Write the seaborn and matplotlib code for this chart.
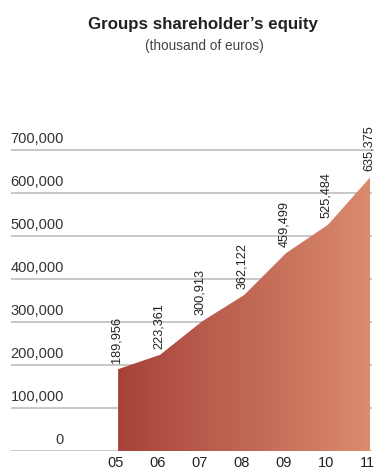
import numpy as np
import pandas as pd
import matplotlib
matplotlib.use("Agg")
import matplotlib.pyplot as plt
import seaborn as sns
from matplotlib.colors import LinearSegmentedColormap
from matplotlib import font_manager

sns.set_theme(style="white")

# Data
years = [5, 6, 7, 8, 9, 10, 11]
year_labels = ["05", "06", "07", "08", "09", "10", "11"]
equity = [189956, 223361, 300913, 362122, 459499, 525484, 635375]
y_ticks = [0, 100000, 200000, 300000, 400000, 500000, 600000, 700000]

installed = {f.name for f in font_manager.fontManager.ttflist}
base_font = "Liberation Sans" if "Liberation Sans" in installed else "DejaVu Sans"
narrow_font = next((f for f in ["Liberation Sans Narrow", "DejaVu Sans Condensed"]
                    if f in installed), base_font)
plt.rcParams["font.family"] = [base_font, "DejaVu Sans"]

df = pd.DataFrame({"year": years, "equity": equity})

W, H = 374, 470
fig = plt.figure(figsize=(W / 100, H / 100), dpi=100)

# axes placement in pixels
ax_left, ax_right = 11, 372.2
ax_bottom_px, px_per_100k = 451, 43.07
ymax = 800000
ax_top_px = ax_bottom_px - px_per_100k * ymax / 100000
ax = fig.add_axes([ax_left / W, (H - ax_bottom_px) / H,
                   (ax_right - ax_left) / W, (ax_bottom_px - ax_top_px) / H])
ax.set_xlim(2.45, 11.05)
ax.set_ylim(0, ymax)
ax.axis("off")

px = 100000 / px_per_100k  # data units per pixel (vertical)
label_x = (64 - ax_left) / (ax_right - ax_left)

grid_color = "#c4c4c4"
for v in y_ticks:
    ax.axhline(v, color=grid_color, lw=1.3, zorder=1)
    ax.text(label_x, v + 4 * px, f"{v:,}", transform=ax.get_yaxis_transform(),
            ha="right", va="bottom", fontsize=10.5, color="#333333")

# area outline through seaborn
sns.lineplot(data=df, x="year", y="equity", ax=ax, color="#c0604c", lw=0, zorder=3)
poly = ax.fill_between(df["year"], 0, df["equity"], color="none", lw=0, zorder=2)

# horizontal gradient fill clipped to the area
cmap = LinearSegmentedColormap.from_list("eq", ["#a6423a", "#db8b6f"])
grad = np.linspace(0, 1, 256).reshape(1, -1)
im = ax.imshow(grad, cmap=cmap, aspect="auto",
               extent=[years[0], years[-1], 0, max(equity)], zorder=2,
               interpolation="bilinear")
path = poly.get_paths()[0]
im.set_clip_path(path, transform=ax.transData)
ax.set_xlim(2.45, 11.05)
ax.set_ylim(0, ymax)

# value labels
for x, v in zip(years, equity):
    ax.annotate(f"{v:,}", (x, v), xytext=(-1.2, 4.5), textcoords="offset points",
                rotation=90, ha="center", va="bottom", fontsize=9.2,
                family=[narrow_font, "DejaVu Sans"], color="#222222",
                annotation_clip=False)

# year labels
for x, lab in zip(years, year_labels):
    ax.text(x - 0.06, -12 * px, lab, ha="center", va="center",
            fontsize=10.5, color="#222222")

fig.text(203 / W, 1 - 25 / H, "Groups shareholder\u2019s equity", ha="center",
         va="center", fontsize=12.2, fontweight="bold", color="#222222")
fig.text(204 / W, 1 - 46 / H, "(thousand of euros)", ha="center", va="center",
         fontsize=9.8, color="#444444")

fig.savefig("out.png", dpi=100)
